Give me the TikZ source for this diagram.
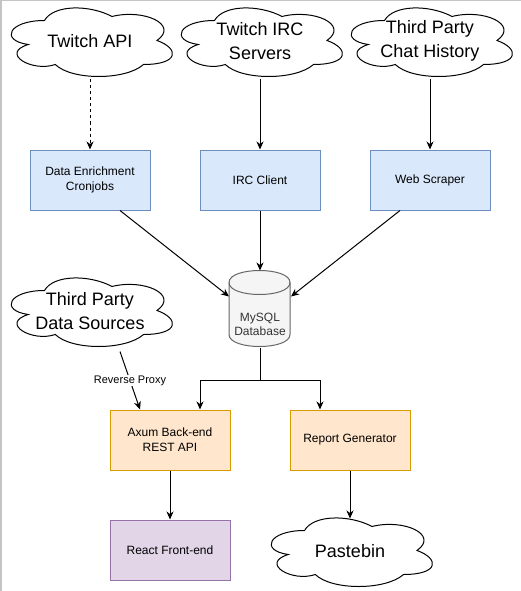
\documentclass[tikz,border=0pt]{standalone}
\usepackage{fontspec}
\setmainfont{Liberation Sans}
\usetikzlibrary{arrows.meta}

\definecolor{bluefill}{HTML}{DAE8FC}
\definecolor{blueline}{HTML}{6C8EBF}
\definecolor{orangefill}{HTML}{FFE6CC}
\definecolor{orangeline}{HTML}{D79B00}
\definecolor{purplefill}{HTML}{E1D5E7}
\definecolor{purpleline}{HTML}{9673A6}
\definecolor{dbfill}{HTML}{F5F5F5}
\definecolor{dbline}{HTML}{666666}
\definecolor{dbtext}{HTML}{333333}
\definecolor{framegray}{HTML}{C4C4C4}

\newcommand{\cloudat}[1]{%
\begin{scope}[shift={(#1.north west)},x=180pt,y=-80pt]
\draw[cloudline] (0.25,0.25) .. controls (0.05,0.25) and (0,0.5) .. (0.16,0.55)
  .. controls (0,0.66) and (0.18,0.9) .. (0.31,0.8)
  .. controls (0.4,1) and (0.7,1) .. (0.8,0.8)
  .. controls (1,0.8) and (1,0.6) .. (0.875,0.5)
  .. controls (1,0.3) and (0.8,0.1) .. (0.625,0.2)
  .. controls (0.5,0.05) and (0.3,0.05) .. (0.25,0.25) -- cycle;
\end{scope}}

\newcommand{\cylinderat}[1]{%
\begin{scope}[shift={(#1.north west)}]
\draw[cylline] (0,-12) .. controls (0,4) and (61,4) .. (61,-12) -- (61,-64)
  .. controls (61,-80) and (0,-80) .. (0,-64) -- cycle;
\draw[draw=dbline] (0,-12) .. controls (0,-28) and (61,-28) .. (61,-12);
\end{scope}}

\begin{document}
\begin{tikzpicture}[x=1pt, y=1pt, line width=1pt,
  >={Stealth[length=8pt,width=7pt,inset=2.5pt]},
  procbox/.style={minimum width=120pt, minimum height=60pt, inner sep=0pt,
    align=center, font=\fontsize{12}{15}\selectfont},
  bluebox/.style={procbox, draw=blueline, fill=bluefill},
  orangebox/.style={procbox, draw=orangeline, fill=orangefill},
  purplebox/.style={procbox, draw=purpleline, fill=purplefill},
  cloudbox/.style={minimum width=180pt, minimum height=80pt, inner sep=0pt,
    align=center, font=\fontsize{18}{24}\selectfont},
  cloudline/.style={draw=black},
  cylline/.style={draw=dbline, fill=dbfill},
  dbbox/.style={minimum width=61pt, minimum height=76pt, inner sep=0pt},
  dblabel/.style={text=dbtext, align=center, font=\fontsize{12}{14}\selectfont},
  link/.style={->},
  dashlink/.style={->, dash pattern=on 3pt off 3pt},
  edgelabel/.style={fill=white, inner sep=1pt, font=\fontsize{11}{13}\selectfont}]

\useasboundingbox (0,0) rectangle (521,-591);
\draw[framegray, line width=1.5pt] (0.75,-591) -- (0.75,-0.75) -- (521,-0.75);

\coordinate (T1) at (90,-41);
\coordinate (T2) at (260,-41);
\coordinate (T3) at (430,-41);
\coordinate (B1) at (90,-180);
\coordinate (B2) at (260,-180);
\coordinate (B3) at (430,-180);
\coordinate (D) at (260,-309);
\coordinate (S) at (90,-311);
\coordinate (split) at (260,-380);

\node[cloudbox] (twapi) at (T1) {Twitch API};
\node[cloudbox] (ircsrv) at (T2) {Twitch IRC\\Servers};
\node[cloudbox] (chathist) at (T3) {Third Party\\Chat History};
\node[cloudbox] (dsrc) at (S) {Third Party\\Data Sources};
\node[cloudbox] (paste) at (350,-551) {Pastebin};
\cloudat{twapi}
\cloudat{ircsrv}
\cloudat{chathist}
\cloudat{dsrc}
\cloudat{paste}

\node[bluebox] (enrich) at (B1) {Data Enrichment\\Cronjobs};
\node[bluebox] (irc) at (B2) {IRC Client};
\node[bluebox] (scraper) at (B3) {Web Scraper};

\node[dbbox] (db) at (D) {};
\cylinderat{db}
\node[dblabel] (dbname) at ([yshift=-15pt]db.center) {MySQL\\Database};

\node[orangebox] (axum) at (170,-440) {Axum Back-end\\REST API};
\node[orangebox] (report) at (350,-440) {Report Generator};
\node[purplebox] (react) at (170,-550) {React Front-end};

\draw[dashlink] ([yshift=2pt]twapi.south) -- (enrich.north);
\draw[link] ([yshift=2pt]ircsrv.south) -- (irc.north);
\draw[link] ([yshift=2pt]chathist.south) -- (scraper.north);

\draw[link] ([xshift=30pt]enrich.south) -- ([yshift=-26pt]db.north west);
\draw[link] (irc.south) -- (db.north);
\draw[link] ([xshift=-30pt]scraper.south) -- ([yshift=-26pt]db.north east);

\draw (db.south) -- (split);
\draw[link] (split) -| ([xshift=30pt]axum.north);
\draw[link] (split) -| ([xshift=-30pt]report.north);

\draw[link] ([xshift=30pt]dsrc.south) -- node[edgelabel] {Reverse Proxy} ([xshift=-30pt]axum.north);

\draw[link] (axum.south) -- (react.north);
\draw[link] (report.south) -- ([yshift=-8pt]paste.north);
\end{tikzpicture}
\end{document}
